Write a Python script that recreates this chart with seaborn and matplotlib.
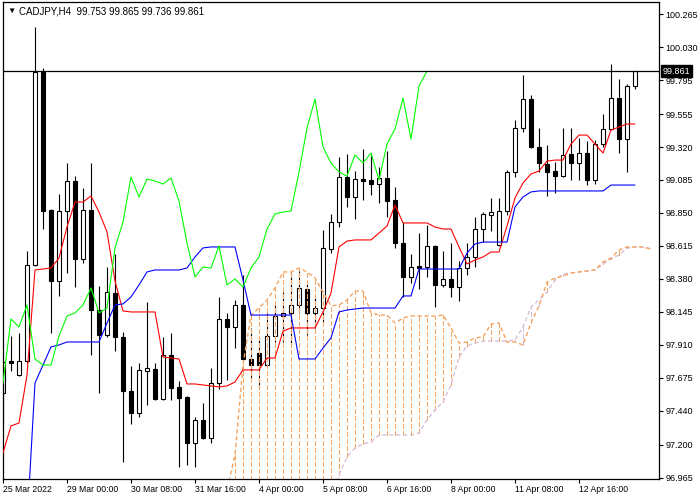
import numpy as np
import pandas as pd
import seaborn as sns
import matplotlib.pyplot as plt

# CADJPY H4 bars, bar 0 = 25 Mar 16:00
opens = [97.568, 97.796, 97.696, 97.796, 98.480, 99.854, 98.871, 98.366, 98.864, 99.078,
         98.522, 98.871, 98.159, 97.981, 98.280, 97.967, 97.582, 97.425, 97.725, 97.739,
         97.525, 97.839, 97.611, 97.539, 97.212, 97.376, 97.247, 97.639, 98.095, 98.038,
         98.195, 97.810, 97.853, 97.767, 97.974, 98.116, 98.138, 98.195, 98.309, 98.138,
         98.173, 98.593, 98.786, 99.106, 98.964, 99.092, 99.085, 99.056, 99.099, 98.942,
         98.636, 98.394, 98.472, 98.465, 98.615, 98.337, 98.380, 98.323, 98.458, 98.537,
         98.736, 98.836, 98.622, 98.864, 99.142, 99.455, 99.662, 99.320, 99.199, 99.149,
         99.113, 99.270, 99.206, 99.277, 99.085, 99.341, 99.448, 99.669, 99.377, 99.753]
highs = [97.796, 97.974, 97.995, 98.579, 100.175, 99.883, 98.878, 98.985, 99.206, 99.113,
         99.028, 99.206, 98.330, 98.465, 98.558, 98.002, 97.760, 97.782, 98.216, 97.782,
         97.967, 97.995, 97.653, 97.546, 97.397, 97.497, 97.746, 98.252, 98.138, 98.230,
         98.408, 98.031, 97.974, 98.138, 98.209, 98.287, 98.430, 98.437, 98.351, 98.252,
         98.729, 98.843, 99.249, 99.270, 99.149, 99.306, 99.277, 99.178, 99.292, 99.035,
         98.786, 98.558, 98.707, 98.764, 98.622, 98.579, 98.636, 98.508, 98.636, 98.821,
         98.857, 98.957, 98.957, 99.156, 99.512, 99.833, 99.690, 99.455, 99.334, 99.213,
         99.455, 99.455, 99.384, 99.363, 99.370, 99.555, 99.911, 99.804, 99.769, 99.865]
lows = [97.354, 97.725, 97.689, 97.782, 98.472, 98.736, 97.995, 98.259, 98.423, 98.323,
        98.494, 97.839, 97.568, 97.967, 97.867, 97.076, 97.347, 97.397, 97.482, 97.518,
        97.518, 97.518, 97.041, 97.055, 97.041, 97.240, 97.212, 97.596, 97.660, 97.888,
        97.803, 97.675, 97.603, 97.753, 97.931, 97.931, 97.910, 98.138, 97.981, 98.031,
        98.074, 98.565, 98.750, 98.893, 98.807, 98.942, 98.978, 98.921, 98.821, 98.601,
        98.252, 98.351, 98.309, 98.394, 98.180, 98.323, 98.252, 98.223, 98.408, 98.465,
        98.643, 98.722, 98.615, 98.836, 99.106, 99.427, 99.313, 99.142, 98.971, 98.992,
        99.106, 99.085, 99.085, 99.049, 99.056, 99.320, 99.441, 99.277, 99.142, 99.736]
closes = [97.789, 97.782, 97.796, 98.480, 99.854, 98.864, 98.366, 98.864, 99.078, 98.522,
          98.871, 98.159, 97.981, 98.287, 97.967, 97.582, 97.425, 97.732, 97.746, 97.525,
          97.839, 97.603, 97.532, 97.212, 97.376, 97.247, 97.639, 98.095, 98.038, 98.195,
          97.810, 97.767, 97.767, 97.974, 98.116, 98.138, 98.195, 98.316, 98.138, 98.173,
          98.601, 98.786, 99.106, 98.964, 99.092, 99.078, 99.056, 99.099, 98.935, 98.636,
          98.394, 98.465, 98.458, 98.615, 98.337, 98.380, 98.323, 98.458, 98.537, 98.736,
          98.843, 98.857, 98.864, 99.142, 99.455, 99.662, 99.320, 99.206, 99.142, 99.113,
          99.263, 99.206, 99.277, 99.085, 99.341, 99.448, 99.669, 99.377, 99.754, 99.861]

# Ichimoku lines
tenkan = [97.141, 97.333, 97.354, 97.696, 98.444, 98.451, 98.458, 98.529, 98.750, 98.928,
          98.928, 98.971, 98.857, 98.715, 98.366, 98.152, 98.145, 98.145, 98.145, 98.145,
          97.824, 97.817, 97.810, 97.632, 97.632, 97.625, 97.618, 97.611, 97.618, 97.646,
          97.732, 97.732, 97.732, 97.817, 97.817, 98.009, 98.031, 98.031, 98.031, 98.031,
          98.145, 98.280, 98.608, 98.650, 98.658, 98.658, 98.658, 98.707, 98.757, 98.907,
          98.779, 98.779, 98.779, 98.779, 98.750, 98.736, 98.736, 98.608, 98.487, 98.515,
          98.537, 98.572, 98.572, 98.757, 98.957, 99.064, 99.128, 99.149, 99.220, 99.227,
          99.227, 99.341, 99.405, 99.405, 99.341, 99.277, 99.441, 99.462, 99.484, 99.484]
kijun_start = 3
kijun = [96.628, 97.639, 97.767, 97.896, 97.910, 97.931, 97.931, 97.931, 97.931, 97.931,
         98.066, 98.195, 98.202, 98.252, 98.337, 98.430, 98.444, 98.444, 98.444, 98.444,
         98.458, 98.537, 98.601, 98.608, 98.608, 98.608, 98.608, 98.373, 98.123, 98.123,
         98.123, 98.123, 98.123, 98.123, 97.810, 97.810, 97.810, 97.888, 97.960, 98.145,
         98.159, 98.166, 98.173, 98.173, 98.173, 98.173, 98.173, 98.259, 98.259, 98.451,
         98.451, 98.451, 98.451, 98.451, 98.451, 98.565, 98.629, 98.643, 98.643, 98.643,
         98.643, 98.893, 98.964, 99.000, 99.007, 99.007, 99.007, 99.007, 99.007, 99.007,
         99.007, 99.007, 99.007, 99.049, 99.049, 99.049, 99.049]
cloud_start = 27
span_a = [96.735, 96.877, 97.126, 97.767, 98.123, 98.173, 98.230, 98.316, 98.430, 98.430,
          98.458, 98.430, 98.387, 98.287, 98.188, 98.195, 98.230, 98.294, 98.294, 98.138,
          98.123, 98.123, 98.066, 98.102, 98.116, 98.116, 98.116, 98.116, 98.123, 98.031,
          97.924, 97.931, 97.960, 97.967, 98.059, 98.066, 97.931, 97.931, 97.910, 98.066,
          98.188, 98.358, 98.387, 98.401, 98.423, 98.430, 98.437, 98.444, 98.501, 98.529,
          98.586, 98.608, 98.608, 98.608, 98.593]
span_b = [96.700, 96.700, 96.700, 96.700, 96.700, 96.700, 96.700, 96.700, 96.700, 96.700,
          96.700, 96.700, 96.700, 96.700, 96.806, 96.984, 97.112, 97.176, 97.205, 97.219,
          97.269, 97.269, 97.269, 97.269, 97.269, 97.283, 97.376, 97.447, 97.504, 97.625,
          97.824, 97.903, 97.924, 97.938, 97.938, 97.938, 97.938, 97.945, 98.038, 98.180,
          98.230, 98.287, 98.373, 98.415, 98.423, 98.430, 98.437, 98.444, 98.487, 98.522,
          98.551, 98.601, 98.608, 98.608, 98.593]
chikou_shift = 26

x_labels = ["25 Mar 2022", "29 Mar 00:00", "30 Mar 08:00", "31 Mar 16:00", "4 Apr 00:00",
            "5 Apr 08:00", "6 Apr 16:00", "8 Apr 00:00", "11 Apr 08:00", "12 Apr 16:00"]
y_labels = ["100.265", "100.030", "99.795", "99.555", "99.320", "99.085", "98.850",
            "98.615", "98.380", "98.145", "97.910", "97.675", "97.440", "97.200", "96.965"]
title = "CADJPY,H4  99.753 99.865 99.736 99.861"
last_price = "99.861"

sns.set_style("white")
plt.rcParams['font.family'] = ['Liberation Sans', 'DejaVu Sans']

fig = plt.figure(figsize=(7, 5), dpi=100)
ax = fig.add_axes([2.5 / 700, 21 / 500, 656.5 / 700, 477 / 500])

bars = pd.DataFrame({'k': np.arange(len(closes)), 'open': opens, 'high': highs,
                     'low': lows, 'close': closes})
up = bars['close'] >= bars['open']
body_lo = bars[['open', 'close']].min(axis=1)
body_h = (bars['close'] - bars['open']).abs().clip(lower=0.004)

# cloud hatching and span lines
dash = (0, (3, 2))
ck = np.arange(cloud_start, cloud_start + len(span_a))
a = np.array(span_a)
b = np.array(span_b)
bull = a >= b
ax.vlines(ck[bull], b[bull], a[bull], colors='#F4A460', linestyles=[dash], lw=1.0,
          antialiased=False, zorder=3)
ax.vlines(ck[~bull], a[~bull], b[~bull], colors='#D8BFD8', linestyles=[dash], lw=1.0,
          antialiased=False, zorder=3)
sns.lineplot(x=ck, y=span_b, color='#D8BFD8', linestyle=dash, lw=1.0,
             estimator=None, errorbar=None, ax=ax, zorder=3)
sns.lineplot(x=ck, y=span_a, color='#F4A460', linestyle=dash, lw=1.0,
             estimator=None, errorbar=None, ax=ax, zorder=3)

# candles
ax.vlines(bars['k'], bars['low'], bars['high'], color='black', lw=0.8, zorder=2)
ax.bar(bars['k'], body_h, bottom=body_lo, width=0.55,
       color=np.where(up, 'white', 'black'), edgecolor='black', lw=0.8, zorder=2.1)

# tenkan, kijun, chikou
sns.lineplot(x=bars['k'], y=tenkan, color='#FF0000', lw=0.8,
             estimator=None, errorbar=None, ax=ax, zorder=4)
kk = np.arange(kijun_start, kijun_start + len(kijun))
sns.lineplot(x=kk, y=kijun, color='#0000FF', lw=0.8,
             estimator=None, errorbar=None, ax=ax, zorder=4)
sns.lineplot(x=bars['k'][:-chikou_shift], y=bars['close'][chikou_shift:].values,
             color='#00FF00', lw=0.8, estimator=None, errorbar=None, ax=ax, zorder=4)

# current price line
ax.axhline(float(last_price), color='black', lw=0.9, zorder=5)

ax.set_xlim(-0.0625, 82.0)
ax.set_ylim(96.955, 100.353)
ax.set_xlabel("")
ax.set_ylabel("")

ax.set_xticks(np.arange(0, 8 * len(x_labels), 8))
ax.set_xticklabels(x_labels, ha='left')
ax.yaxis.tick_right()
ax.set_yticks([float(v) for v in y_labels])
ax.set_yticklabels(y_labels)
ax.tick_params(axis='x', length=3, width=0.8, pad=1.5, labelsize=6.2, colors='black',
               bottom=True, direction='out')
ax.tick_params(axis='y', length=3, width=0.8, pad=1.5, labelsize=6.5, colors='black',
               right=True, left=False, direction='out')
for s in ax.spines.values():
    s.set_color('black')
    s.set_linewidth(0.9)

ax.text(1.0061, float(last_price), last_price, transform=ax.get_yaxis_transform(),
        ha='left', va='center', color='white', fontsize=6.5, zorder=10, clip_on=False,
        bbox=dict(boxstyle='square,pad=0.2', facecolor='black', edgecolor='black'))

fig.text(7 / 700, 1 - 11 / 500, "\u25bc", fontsize=6, va='center', color='black')
fig.text(19 / 700, 1 - 11 / 500, title, fontsize=7, va='center', color='black')

fig.savefig('out.png', dpi=100)
